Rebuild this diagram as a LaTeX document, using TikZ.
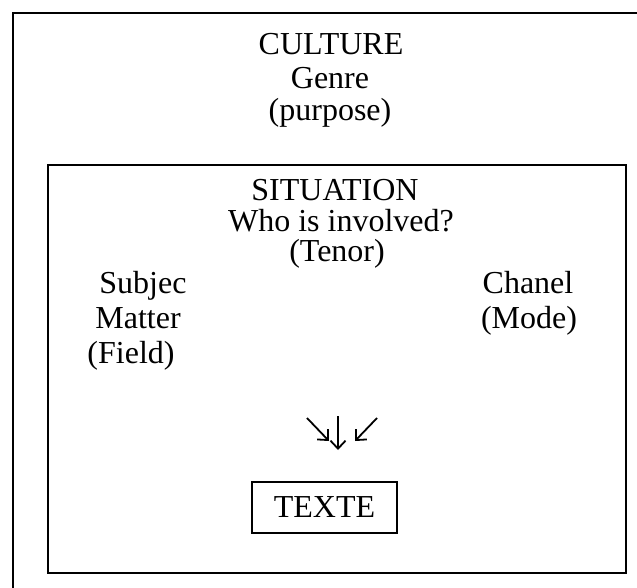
\documentclass[tikz,border=0pt]{standalone}
\usepackage{fontspec}
\setmainfont{Liberation Serif}
\usetikzlibrary{arrows.meta}
\begin{document}
\begin{tikzpicture}[x=1pt,y=-1pt,
  lbl/.style={anchor=base, inner sep=0pt, font=\fontsize{32}{37}\selectfont},
  frame/.style={draw=black, line width=1.6pt},
  arr/.style={line width=1.8pt, -{Straight Barb[length=8pt,width=15pt,line width=1.8pt]}}]
\useasboundingbox (0,0) rectangle (637,588);
\clip (0,0) rectangle (637,588);
\draw[frame] (13,13) rectangle (660,620);
\draw[frame] (48,165) rectangle (626,573);
% culture
\node[lbl] (culture) at (331,55) {CULTURE};
\node[lbl] (genre) at (330,89) {Genre};
\node[lbl] (purpose) at (330,121) {(purpose)};
% situation
\node[lbl] (situation) at (335,201) {SITUATION};
\node[lbl] (who) at (341,232) {Who is involved?};
\node[lbl] (tenor) at (337,261) {(Tenor)};
% field
\node[lbl] (subjec) at (143,293) {Subjec};
\node[lbl] (matter) at (138,328) {Matter};
\node[lbl] (field) at (131,363) {(Field)};
% mode
\node[lbl] (chanel) at (528,293) {Chanel};
\node[lbl] (mode) at (529,328) {(Mode)};
% texte
\node[frame, minimum width=145pt, minimum height=51pt, inner sep=0pt,
  font=\fontsize{32}{37}\selectfont] (texte) at (324.5,507.5) {TEXTE};
% arrows
\coordinate (a1s) at (307,418);
\coordinate (a1e) at (329,441);
\coordinate (a2s) at (338,416);
\coordinate (a2e) at (338,450);
\coordinate (a3s) at (377,418);
\coordinate (a3e) at (355,441);
\draw[arr] (a1s) -- (a1e);
\draw[arr] (a2s) -- (a2e);
\draw[arr] (a3s) -- (a3e);
\end{tikzpicture}
\end{document}
